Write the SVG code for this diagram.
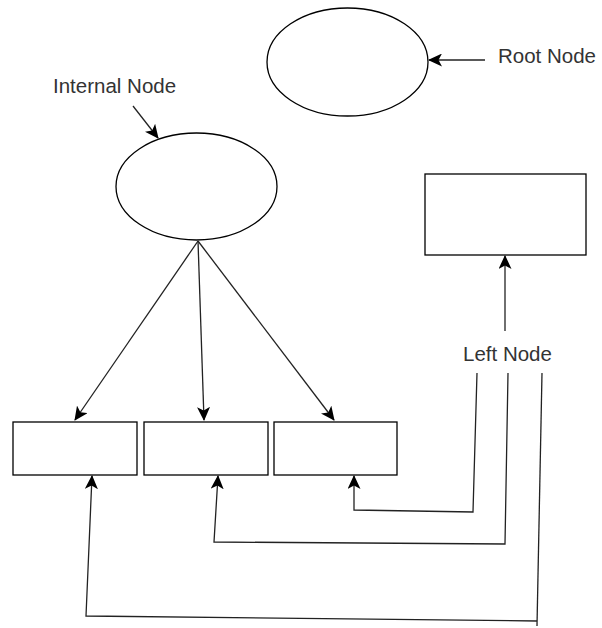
<svg xmlns="http://www.w3.org/2000/svg" width="602" height="628" viewBox="0 0 602 628">
<defs>
<marker id="arr" markerUnits="userSpaceOnUse" markerWidth="15" markerHeight="13" viewBox="0 0 15 13" refX="13" refY="6.5" orient="auto">
<path d="M0,0 L14,6.5 L0,13 L3.5,6.5 z" fill="#000"/>
</marker>
<style>
.shape{fill:#fff;stroke:#000;stroke-width:1.3}
.edge{fill:none;stroke:#222;stroke-width:1.3}
.lbl{font-family:"Liberation Sans",Arial,sans-serif;font-size:20.5px;fill:#333}
</style>
</defs>
<rect width="602" height="628" fill="#fff"/>
<g id="root-node"><ellipse class="shape" cx="347.5" cy="62" rx="80.5" ry="54"/></g>
<g id="internal-node"><ellipse class="shape" cx="196.5" cy="186.5" rx="80.5" ry="53.5"/></g>
<g id="leaf-right"><rect class="shape" x="425" y="174" width="161" height="81"/></g>
<g id="box1"><rect class="shape" x="13" y="422" width="124" height="53"/></g>
<g id="box2"><rect class="shape" x="144" y="422" width="124" height="53"/></g>
<g id="box3"><rect class="shape" x="274" y="422" width="123" height="53"/></g>
<g id="labels">
<text class="lbl" x="498" y="63">Root Node</text>
<text class="lbl" x="53" y="93">Internal Node</text>
<text class="lbl" x="463" y="361">Left Node</text>
</g>
<g id="connectors">
<path class="edge" d="M485,60 L429,60" marker-end="url(#arr)"/>
<path class="edge" d="M133,106 L158,138" marker-end="url(#arr)"/>
<path class="edge" d="M198,241 L75,420" marker-end="url(#arr)"/>
<path class="edge" d="M198,241 L204,420" marker-end="url(#arr)"/>
<path class="edge" d="M198,241 L334,420" marker-end="url(#arr)"/>
<path class="edge" d="M505,331 L505,256" marker-end="url(#arr)"/>
<path class="edge" d="M477,373 L473,512 L354,510 L354,476" marker-end="url(#arr)"/>
<path class="edge" d="M508,373 L505,544 L214,542 L218,476" marker-end="url(#arr)"/>
<path class="edge" d="M542,373 L537,626"/>
<path class="edge" d="M537,621 L86,616 L92,476" marker-end="url(#arr)"/>
</g>
</svg>
